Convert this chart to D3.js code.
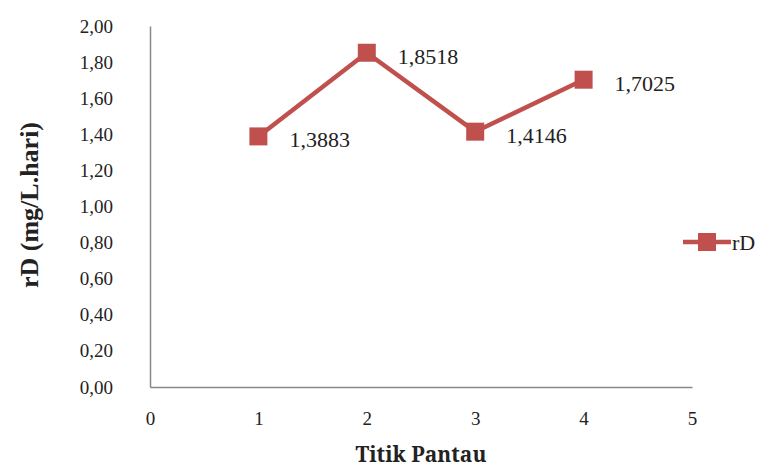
<!DOCTYPE html>
<html><head><meta charset="utf-8">
<script src="https://cdn.jsdelivr.net/npm/d3@7/dist/d3.min.js"></script>
<style>body{margin:0;background:#fff}svg{display:block}</style>
</head><body><svg id="c" width="764" height="470"></svg>
<script>
const xValues = [1, 2, 3, 4];
const rDValues = [1.3883, 1.8518, 1.4146, 1.7025];
const dataLabels = ["1,3883", "1,8518", "1,4146", "1,7025"];
const yTicks = [0, 0.2, 0.4, 0.6, 0.8, 1.0, 1.2, 1.4, 1.6, 1.8, 2.0];
const xTicks = [0, 1, 2, 3, 4, 5];
const seriesName = "rD";
const xTitle = "Titik Pantau";
const yTitle = "rD (mg/L.hari)";

const SERIF = "'Liberation Serif', 'Times New Roman', serif";
const TITLE = "'Noto Serif', 'DejaVu Serif', serif";
const loc = d3.formatLocale({decimal: ",", thousands: ".", grouping: [3], currency: ["", ""]});
const fmt = loc.format(".2f");
const svg = d3.select("#c");
const x = d3.scaleLinear().domain([0, 5]).range([150, 692]);
const y = d3.scaleLinear().domain([0, 2]).range([387, 26]);
const red = "#C0504D";
const ink = "#222";

const yAxis = d3.axisLeft(y).tickValues(yTicks).tickFormat(fmt).tickSize(0).tickPadding(37);
const gy = svg.append("g").attr("transform", "translate(150,0)").call(yAxis);
gy.select(".domain").attr("stroke", "#888").attr("stroke-width", 1.5);
gy.selectAll("text").style("font-family", SERIF).style("font-size", "19px").attr("fill", ink);

const xAxis = d3.axisBottom(x).tickValues(xTicks).tickFormat(d3.format("d")).tickSize(0).tickPadding(25);
const gx = svg.append("g").attr("transform", "translate(0,387)").call(xAxis);
gx.select(".domain").attr("stroke", "#888").attr("stroke-width", 1.5);
gx.selectAll("text").style("font-family", SERIF).style("font-size", "19px").attr("fill", ink);

const pts = xValues.map((v, i) => ({x: v, y: rDValues[i], l: dataLabels[i]}));
svg.append("path").datum(pts)
  .attr("d", d3.line().x(d => x(d.x)).y(d => y(d.y)))
  .attr("fill", "none").attr("stroke", red).attr("stroke-width", 4.5);
svg.selectAll("rect.m").data(pts).enter().append("rect").attr("class", "m")
  .attr("x", d => x(d.x) - 9).attr("y", d => y(d.y) - 9).attr("width", 18).attr("height", 18).attr("fill", red);
svg.selectAll("text.lbl").data(pts).enter().append("text").attr("class", "lbl")
  .attr("x", d => x(d.x) + 31).attr("y", d => y(d.y) + 11)
  .style("font-family", SERIF).style("font-size", "22px").attr("fill", ink).text(d => d.l);

svg.append("text").attr("x", 421).attr("y", 462).attr("text-anchor", "middle")
  .style("font-family", TITLE).style("font-size", "21px").style("font-weight", "bold").attr("fill", ink).text(xTitle);
svg.append("text").attr("transform", "translate(38,205) rotate(-90)").attr("text-anchor", "middle")
  .style("font-family", SERIF).style("font-size", "26px").style("font-weight", "bold").attr("fill", ink).text(yTitle);

const lg = svg.append("g").attr("transform", "translate(683,242)");
lg.append("line").attr("x1", 0).attr("x2", 48).attr("stroke", red).attr("stroke-width", 4.5);
lg.append("rect").attr("x", 15).attr("y", -9).attr("width", 18).attr("height", 18).attr("fill", red);
lg.append("text").attr("x", 49).attr("y", 8)
  .style("font-family", SERIF).style("font-size", "22px").attr("fill", ink).text(seriesName);
</script></body></html>
